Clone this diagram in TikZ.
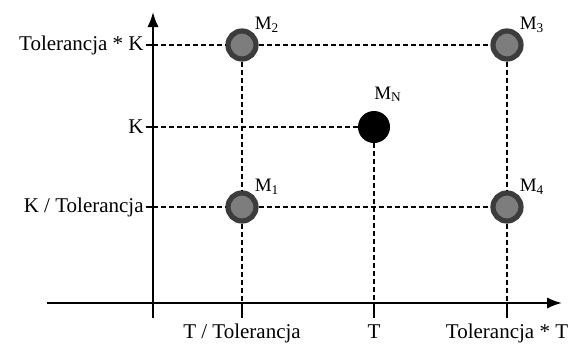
\documentclass[tikz,border=0pt]{standalone}
\usepackage{fontspec}
\setmainfont{Liberation Serif}
\usetikzlibrary{arrows.meta,positioning}
\definecolor{ringstroke}{RGB}{60,60,60}
\definecolor{ringfill}{RGB}{125,125,125}

\begin{document}
\begin{tikzpicture}[
  x=0.5pt, y=-0.5pt,
  font=\fontsize{10.5}{12}\selectfont,
  >=Latex,
  axis/.style={->, line width=1pt},
  tick/.style={line width=0.9pt},
  guide/.style={line width=0.8pt, dash pattern=on 2.5pt off 1.5pt},
  point/.style={circle, draw=ringstroke, line width=2.6pt, fill=ringfill,
    minimum size=14pt, inner sep=0pt},
  target/.style={circle, fill=black, minimum size=16pt, inner sep=0pt},
  pointlabel/.style={font=\fontsize{9.5}{10}\selectfont},
  ticklabel/.style={inner sep=1pt}
]
\useasboundingbox (0,0) rectangle (572,343);

% axes
\coordinate (origin) at (153,303);
\coordinate (yend) at (153,12);
\coordinate (ystart) at (153,318);
\coordinate (xstart) at (47,303);
\coordinate (xend) at (562,303);
\draw[axis] (ystart) -- (yend);
\draw[axis] (xstart) -- (xend);

% ticks on the axes
\coordinate (yhi) at (153,45);
\coordinate (ymid) at (153,127);
\coordinate (ylo) at (153,207);
\coordinate (xlo) at (242,303);
\coordinate (xmid) at (374,303);
\coordinate (xhi) at (507,303);
\foreach \t in {yhi,ymid,ylo}
  \draw[tick] (\t) -- ++(-7,0) coordinate (\t-end);
\foreach \t in {xlo,xmid,xhi}
  \draw[tick] (\t) -- ++(0,15) coordinate (\t-end);

\node[ticklabel, anchor=east] (lyhi) at (yhi-end) {Tolerancja * K};
\node[ticklabel, anchor=east] (lymid) at (ymid-end) {K};
\node[ticklabel, anchor=east] (lylo) at (ylo-end) {K / Tolerancja};
\node[ticklabel, anchor=north] (lxlo) at ([yshift=-2pt]xlo-end) {T / Tolerancja};
\node[ticklabel, anchor=north] (lxmid) at ([yshift=-2pt]xmid-end) {T};
\node[ticklabel, anchor=north] (lxhi) at ([yshift=-2pt]xhi-end) {Tolerancja * T};

% measurement points
\node[point] (m2) at (242,45) {};
\node[point] (m3) at (507,45) {};
\node[target] (mn) at (374,127) {};
\node[point] (m1) at (242,207) {};
\node[point] (m4) at (507,207) {};

\node[pointlabel, above right=-3pt and -3pt of m2] (lm2) {M\textsubscript{2}};
\node[pointlabel, above right=-3pt and -3pt of m3] (lm3) {M\textsubscript{3}};
\node[pointlabel, above=1pt of mn, xshift=7pt] (lmn) {M\textsubscript{N}};
\node[pointlabel, above right=-3pt and -3pt of m1] (lm1) {M\textsubscript{1}};
\node[pointlabel, above right=-3pt and -3pt of m4] (lm4) {M\textsubscript{4}};

% guide lines
\draw[guide] (yhi) -- (m2);
\draw[guide] (m2) -- (m3);
\draw[guide] (ymid) -- (mn);
\draw[guide] (ylo) -- (m1);
\draw[guide] (m1) -- (m4);
\draw[guide] (m2) -- (m1);
\draw[guide] (m1) -- (xlo);
\draw[guide] (mn) -- (xmid);
\draw[guide] (m3) -- (m4);
\draw[guide] (m4) -- (xhi);

\end{tikzpicture}
\end{document}
